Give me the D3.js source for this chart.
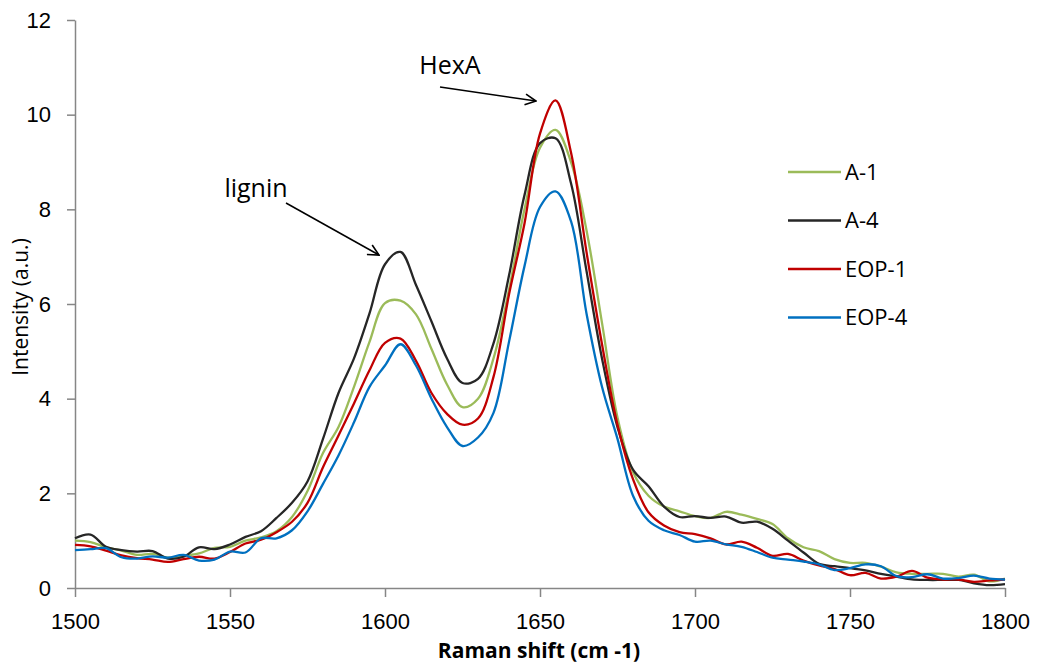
<!DOCTYPE html>
<meta charset="utf-8">
<style>
body { margin: 0; background: #fff; }
svg { font-family: "Open Sans", "Noto Sans", sans-serif; }
.axis path, .axis line { stroke: #868686; stroke-width: 1.5px; }
.axis text { font-size: 22px; fill: #000; }
</style>
<svg width="1037" height="663"></svg>
<script src="https://d3js.org/d3.v7.min.js"></script>
<script>

// Raman shift, cm-1 (every 5)
var shift = d3.range(1500, 1801, 5);

var a1 = [1.00, 0.97, 0.86, 0.79, 0.70, 0.72, 0.64, 0.68, 0.73, 0.85,
          0.87, 1.00, 1.07, 1.20, 1.50, 2.05, 2.85, 3.40, 4.25, 5.20,
          6.02, 6.07, 5.78, 5.05, 4.30, 3.82, 4.00, 4.85, 6.30, 8.00,
          9.30, 9.68, 9.00, 7.56, 5.60, 3.60, 2.45, 1.95, 1.72, 1.62,
          1.52, 1.48, 1.61, 1.55, 1.46, 1.35, 1.05, 0.86, 0.78, 0.61,
          0.53, 0.53, 0.45, 0.33, 0.30, 0.30, 0.30, 0.24, 0.28, 0.14, 0.20];

var a4 = [1.05, 1.13, 0.87, 0.80, 0.77, 0.78, 0.62, 0.66, 0.86, 0.82,
          0.92, 1.08, 1.20, 1.48, 1.80, 2.25, 3.15, 4.12, 4.85, 5.80,
          6.84, 7.10, 6.40, 5.63, 4.85, 4.33, 4.42, 5.17, 6.60, 8.30,
          9.40, 9.50, 8.55, 6.70, 4.85, 3.40, 2.50, 2.15, 1.72, 1.50,
          1.52, 1.48, 1.51, 1.38, 1.40, 1.25, 1.00, 0.75, 0.51, 0.46,
          0.42, 0.37, 0.30, 0.24, 0.18, 0.17, 0.17, 0.17, 0.10, 0.06, 0.08];

var eop1 = [0.91, 0.88, 0.79, 0.69, 0.63, 0.60, 0.55, 0.61, 0.66, 0.62,
            0.76, 0.94, 1.02, 1.18, 1.40, 1.80, 2.55, 3.22, 3.90, 4.60,
            5.18, 5.27, 4.80, 4.12, 3.68, 3.45, 3.58, 4.46, 6.20, 7.70,
            9.60, 10.30, 9.20, 7.10, 5.15, 3.45, 2.30, 1.60, 1.32, 1.18,
            1.14, 1.05, 0.92, 0.98, 0.85, 0.68, 0.72, 0.58, 0.48, 0.40,
            0.27, 0.32, 0.20, 0.24, 0.36, 0.22, 0.18, 0.18, 0.13, 0.16, 0.18];

var eop4 = [0.80, 0.82, 0.84, 0.65, 0.62, 0.67, 0.64, 0.70, 0.58, 0.60,
            0.77, 0.75, 1.05, 1.05, 1.22, 1.62, 2.20, 2.80, 3.50, 4.25,
            4.70, 5.15, 4.70, 4.00, 3.40, 3.00, 3.18, 3.70, 5.20, 6.80,
            8.05, 8.38, 7.75, 5.80, 4.25, 3.15, 1.95, 1.42, 1.22, 1.12,
            0.98, 1.00, 0.92, 0.87, 0.76, 0.64, 0.60, 0.56, 0.50, 0.38,
            0.42, 0.50, 0.46, 0.25, 0.23, 0.29, 0.20, 0.21, 0.26, 0.20, 0.18];

var seriesNames = ["A-1", "A-4", "EOP-1", "EOP-4"];
var seriesColors = ["#9bbb59", "#262626", "#c00000", "#0070c0"];
var xTicks = [1500, 1550, 1600, 1650, 1700, 1750, 1800];
var yTicks = [0, 2, 4, 6, 8, 10, 12];

var svg = d3.select("svg"),
    margin = {top: 20, right: 32, bottom: 75, left: 75},
    width = +svg.attr("width") - margin.left - margin.right,
    height = +svg.attr("height") - margin.top - margin.bottom;

var x = d3.scaleLinear().domain([1500, 1800]).range([0, width]),
    y = d3.scaleLinear().domain([0, 12]).range([height, 0]);

var g = svg.append("g").attr("transform", "translate(" + margin.left + "," + margin.top + ")");

g.append("g")
    .attr("class", "axis")
    .attr("transform", "translate(0," + height + ")")
    .call(d3.axisBottom(x).tickValues(xTicks).tickFormat(d3.format("d"))
      .tickSize(9).tickSizeOuter(0).tickPadding(16));

g.append("g")
    .attr("class", "axis")
    .call(d3.axisLeft(y).tickValues(yTicks).tickFormat(d3.format("d"))
      .tickSize(8).tickSizeOuter(0).tickPadding(16));

var line = d3.line()
    .x(function(d) { return x(d[0]); })
    .y(function(d) { return y(d[1]); })
    .curve(d3.curveCatmullRom.alpha(0.5));

var data = [a1, a4, eop1, eop4];

g.selectAll(".series")
  .data(data)
  .enter().append("path")
    .attr("class", "series")
    .attr("fill", "none")
    .attr("stroke", function(d, i) { return seriesColors[i]; })
    .attr("stroke-width", 2.3)
    .attr("d", function(d) { return line(shift.map(function(s, j) { return [s, d[j]]; })); });

// legend
var legend = svg.selectAll(".legend")
  .data(seriesNames)
  .enter().append("g")
    .attr("class", "legend")
    .attr("transform", function(d, i) { return "translate(788," + (172 + i * 48.5) + ")"; });

legend.append("line")
    .attr("x2", 53)
    .attr("stroke", function(d, i) { return seriesColors[i]; })
    .attr("stroke-width", 2.3);

legend.append("text")
    .attr("x", 57)
    .attr("dy", "0.36em")
    .style("font-size", "22px")
    .text(function(d) { return d; });

// axis titles
svg.append("text")
    .attr("x", 539)
    .attr("y", 658)
    .attr("text-anchor", "middle")
    .style("font-size", "21px")
    .style("font-weight", "bold")
    .text("Raman shift (cm -1)");

svg.append("text")
    .attr("transform", "translate(28,307) rotate(-90)")
    .attr("text-anchor", "middle")
    .style("font-size", "21px")
    .text("Intensity (a.u.)");

// annotations
var defs = svg.append("defs");
defs.append("marker")
    .attr("id", "arrow")
    .attr("viewBox", "0 0 12 12")
    .attr("refX", 11).attr("refY", 6)
    .attr("markerWidth", 13).attr("markerHeight", 13)
    .attr("markerUnits", "userSpaceOnUse")
    .attr("orient", "auto")
  .append("path")
    .attr("d", "M1,1 L11,6 L1,11")
    .attr("fill", "none")
    .attr("stroke", "#000")
    .attr("stroke-width", 1.5);

var notes = [
  {label: "HexA", tx: 450, ty: 74, x1: 440, y1: 87, x2: 536, y2: 101},
  {label: "lignin", tx: 256, ty: 197, x1: 286, y1: 203, x2: 379, y2: 255}
];

notes.forEach(function(n) {
  svg.append("text")
      .attr("x", n.tx).attr("y", n.ty)
      .attr("text-anchor", "middle")
      .style("font-size", "25px")
      .text(n.label);
  svg.append("line")
      .attr("x1", n.x1).attr("y1", n.y1)
      .attr("x2", n.x2).attr("y2", n.y2)
      .attr("stroke", "#000")
      .attr("stroke-width", 1.5)
      .attr("marker-end", "url(#arrow)");
});

</script>
